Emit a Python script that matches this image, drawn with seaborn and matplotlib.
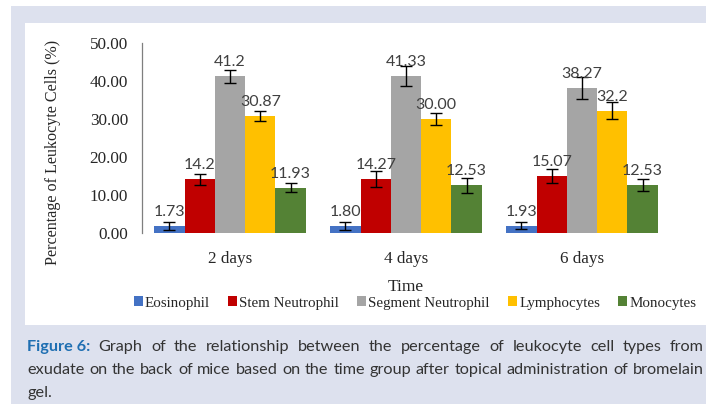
import numpy as np
import pandas as pd
import matplotlib
matplotlib.use("Agg")
import matplotlib.pyplot as plt
from matplotlib.patches import Rectangle, Patch
import seaborn as sns

# ---- data ----
times = ["2 days", "4 days", "6 days"]
cell_types = ["Eosinophil", "Stem Neutrophil", "Segment Neutrophil", "Lymphocytes", "Monocytes"]

eosinophil = [1.73, 1.80, 1.93]
stem_neutrophil = [14.2, 14.27, 15.07]
segment_neutrophil = [41.2, 41.33, 38.27]
lymphocytes = [30.87, 30.00, 32.2]
monocytes = [11.93, 12.53, 12.53]

eosinophil_err = [1.05, 1.0, 1.0]
stem_neutrophil_err = [1.45, 2.1, 1.8]
segment_neutrophil_err = [1.7, 2.6, 2.9]
lymphocytes_err = [1.3, 1.7, 2.2]
monocytes_err = [1.2, 2.0, 1.6]

# labels exactly as printed on the chart
eosinophil_lbl = ["1.73", "1.80", "1.93"]
stem_neutrophil_lbl = ["14.2", "14.27", "15.07"]
segment_neutrophil_lbl = ["41.2", "41.33", "38.27"]
lymphocytes_lbl = ["30.87", "30.00", "32.2"]
monocytes_lbl = ["11.93", "12.53", "12.53"]

colors = ["#4472C4", "#C00000", "#A5A5A5", "#FFC000", "#548235"]

caption_head = "Figure 6:"
caption_line1 = "Graph of the relationship between the percentage of leukocyte cell types from"
caption_line2 = "exudate on the back of mice based on the time group after topical administration of bromelain"
caption_line3 = "gel."

values = [eosinophil, stem_neutrophil, segment_neutrophil, lymphocytes, monocytes]
errors = [eosinophil_err, stem_neutrophil_err, segment_neutrophil_err, lymphocytes_err, monocytes_err]
labels = [eosinophil_lbl, stem_neutrophil_lbl, segment_neutrophil_lbl, lymphocytes_lbl, monocytes_lbl]

rows = []
for ct, vals in zip(cell_types, values):
    for t, v in zip(times, vals):
        rows.append({"Time": t, "Cell": ct, "Percent": v})
df = pd.DataFrame(rows)

W, H = 706, 404
sns.set_theme(style="white")
serif = ["Liberation Serif", "DejaVu Serif"]
plt.rcParams["font.family"] = serif

fig = plt.figure(figsize=(W / 100, H / 100), dpi=100)
fig.patch.set_facecolor("white")

# lavender panel + white chart box
fig.patches.append(Rectangle((11 / W, 0), 1, 1 - 6 / H, transform=fig.transFigure,
                             facecolor="#dde1ee", edgecolor="none", zorder=-20))
fig.patches.append(Rectangle((25 / W, 1 - 325 / H), 1, (325 - 23) / H, transform=fig.transFigure,
                             facecolor="white", edgecolor="none", zorder=-10))

ax = fig.add_axes([142 / W, 1 - 233 / H, (670 - 142) / W, (233 - 43) / H])
ax.patch.set_alpha(0)

sns.barplot(data=df, x="Time", y="Percent", hue="Cell", hue_order=cell_types,
            palette=colors, saturation=1, width=0.86, gap=0, errorbar=None,
            legend=False, linewidth=0, ax=ax)

# error bars and value labels
for cont, errs, lbls in zip(ax.containers, errors, labels):
    for bar, e, lb in zip(cont, errs, lbls):
        cx = bar.get_x() + bar.get_width() / 2
        h = bar.get_height()
        ax.errorbar(cx, h, yerr=e, fmt="none", ecolor="black", elinewidth=1.0,
                    capsize=4, capthick=1.0, zorder=5)
        ax.annotate(lb, (cx, h), xytext=(0, 5), textcoords="offset points",
                    ha="center", va="bottom", fontsize=11.5, color="#404040",
                    family=["Lato", "DejaVu Sans"], zorder=6)

ax.set_xlim(-0.5, 2.5)
ax.set_ylim(0, 50)
ax.set_yticks(np.arange(0, 51, 10))
ax.yaxis.set_major_formatter(matplotlib.ticker.StrMethodFormatter("{x:.2f}"))
ax.tick_params(axis="y", length=0, pad=10, labelsize=12.3, labelcolor="#262626")
ax.tick_params(axis="x", length=0, pad=13, labelsize=12.3, labelcolor="#262626")
for s in ["top", "right", "bottom"]:
    ax.spines[s].set_visible(False)
ax.spines["left"].set_color("#7f7f7f")
ax.spines["left"].set_linewidth(0.9)
ax.set_xlabel("")
ax.set_ylabel("")

fig.text(53 / W, 1 - 152 / H, "Percentage of Leukocyte Cells (%)", rotation=90,
         ha="center", va="center", fontsize=11.6, color="#262626", family=serif)
fig.text(406 / W, 1 - 287 / H, "Time", ha="center", va="center", fontsize=12.5,
         color="#262626", family=serif)

handles = [Patch(facecolor=c, edgecolor="none") for c in colors]
fig.legend(handles, cell_types, loc="center", bbox_to_anchor=(415 / W, 1 - 303 / H),
           ncol=5, frameon=False, handlelength=0.6, handleheight=0.6,
           handletextpad=0.15, columnspacing=1.2, labelcolor="#262626",
           prop={"family": serif, "size": 10.8})

# caption, justified like the journal layout
renderer = fig.canvas.get_renderer()
cap_font = ["Lato", "DejaVu Sans"]

# pick a size so that the second caption line fills the box width naturally
probe = fig.text(0, 0, caption_line2, fontsize=10, family=cap_font)
cap_size = min(12.5, 10 * 670 / probe.get_window_extent(renderer).width)
probe.remove()


def justified(words, x0, x1, y_base, justify=True):
    arts = []
    for w, bold in words:
        t = fig.text(x0 / W, 1 - y_base / H, w, ha="left", va="baseline",
                     fontsize=cap_size, family=cap_font,
                     fontweight="bold" if bold else "normal",
                     color="#1f6fb2" if bold else "#333333")
        arts.append(t)
    widths = [a.get_window_extent(renderer).width for a in arts]
    if justify and len(arts) > 1:
        gap = (x1 - x0 - sum(widths)) / (len(arts) - 1)
    else:
        gap = 3.2
    pos = x0
    for a, wd in zip(arts, widths):
        a.set_x(pos / W)
        pos += wd + gap


justified([(caption_head, True)] + [(w, False) for w in caption_line1.split()], 27, 704, 351)
justified([(w, False) for w in caption_line2.split()], 27, 704, 374)
justified([(caption_line3, False)], 27, 704, 397, justify=False)

fig.savefig("out.png", dpi=100)
